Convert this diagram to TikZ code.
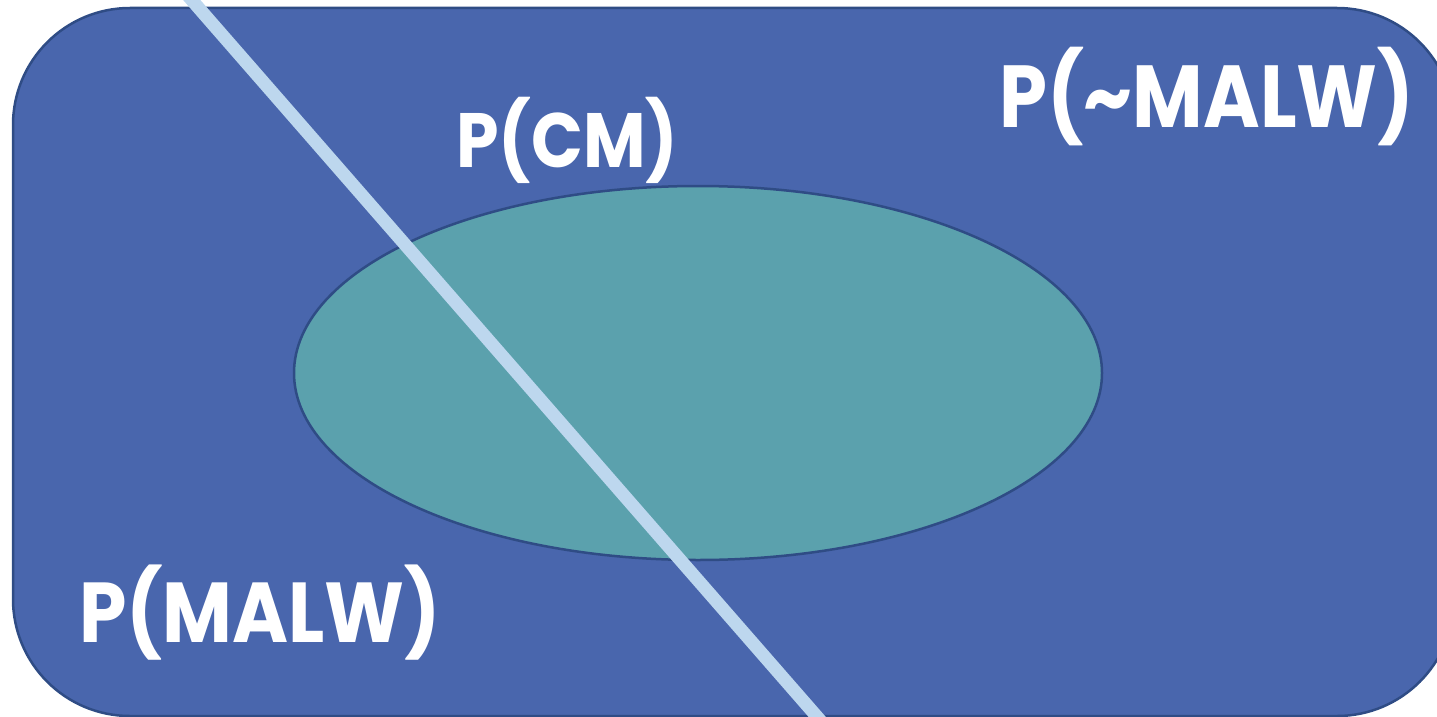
\documentclass[tikz,border=0pt]{standalone}
\usepackage{fontspec}
\setmainfont{Poppins}
\usetikzlibrary{shapes.geometric}
\definecolor{rectfill}{HTML}{4966AD}
\definecolor{edge}{HTML}{2F4C85}
\definecolor{ellfill}{HTML}{5BA1AD}
\definecolor{cutline}{HTML}{BDD7EE}
\newcommand\fitw[2]{\resizebox{#1}{\height}{#2}}
\tikzset{
  label/.style={text=white, inner sep=0pt, anchor=base west},
  fs/.style={font=\bfseries\fontsize{#1}{#1}\selectfont},
}
\begin{document}
\begin{tikzpicture}[x=1pt,y=-1pt]
\useasboundingbox (0,0) rectangle (1437,717);
\begin{scope}
\clip (0,0) rectangle (1437,717);
\draw[fill=rectfill, draw=edge, line width=2.5pt, rounded corners=117pt] (13,8) rectangle (1454,716);
\node[ellipse, draw=edge, fill=ellfill, line width=2.5pt, minimum width=808pt, minimum height=374pt, inner sep=0pt] (cm) at (698,373) {};
\coordinate (ltop) at (183,-10);
\coordinate (lbot) at (826,727);
\draw[cutline, line width=13pt] (ltop) -- (lbot);
\end{scope}
\node[label, fs=77] (pcm) at (456,167) {\fitw{222pt}{P(CM)}};
\node[label, fs=85] (pmalw) at (79,642) {\fitw{362pt}{P(MALW)}};
\node[label, fs=88] (pnmalw) at (999,127) {\fitw{415pt}{P(\char`\~MALW)}};
\end{tikzpicture}
\end{document}
